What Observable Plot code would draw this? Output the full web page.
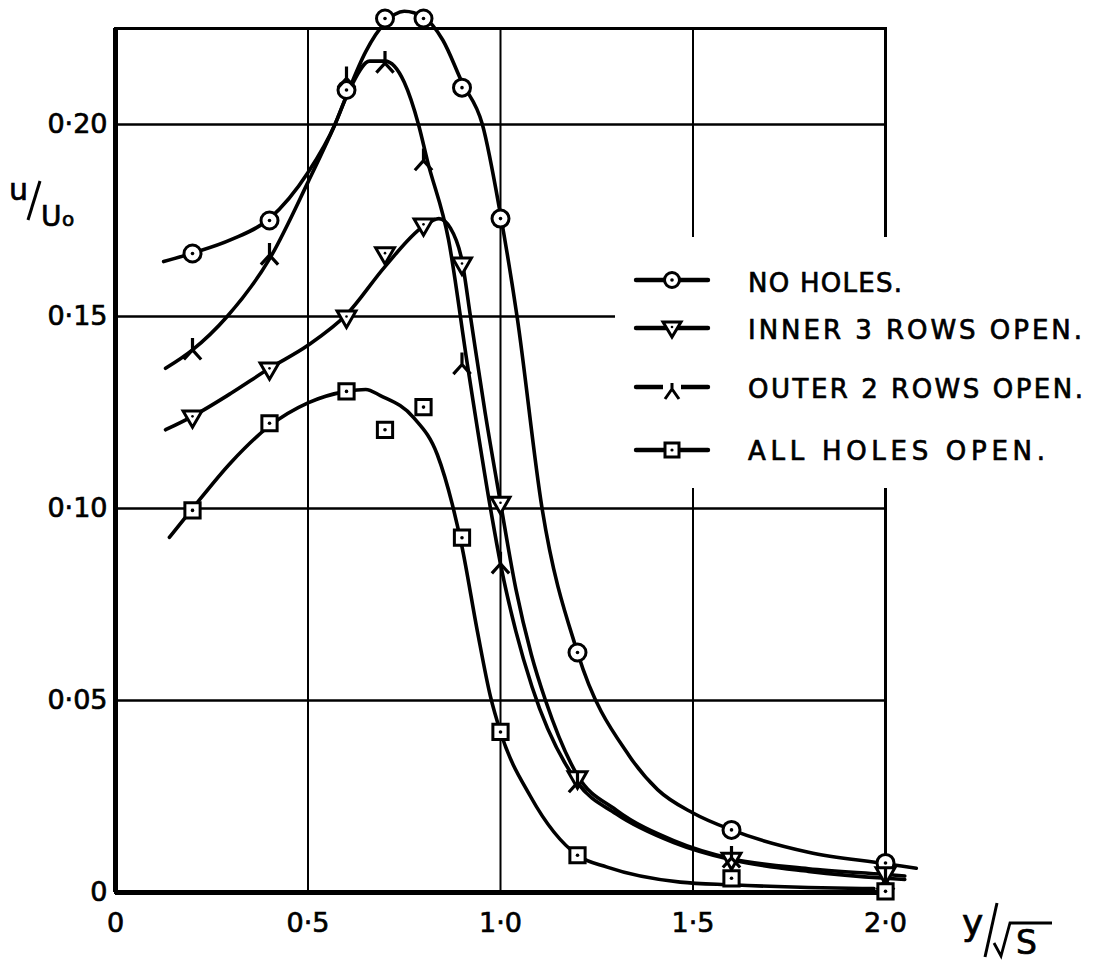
<!DOCTYPE html>
<html>
<head>
<meta charset="utf-8">
<script src="https://cdn.jsdelivr.net/npm/d3@7"></script>
<script src="https://cdn.jsdelivr.net/npm/@observablehq/plot@0.6"></script>
<style>
html, body { margin: 0; padding: 0; background: #fff; }
#wrap { position: relative; width: 1093px; height: 966px; overflow: hidden; }
#wrap > svg { display: block; }
#overlay { position: absolute; left: 0; top: 0; pointer-events: none; }
#wrap text { stroke: #000; stroke-width: 0.7px; paint-order: stroke; }
</style>
</head>
<body>
<div id="wrap"></div>
<script>
// ---- data ----
const xPositions = [0.2, 0.4, 0.6, 0.7, 0.8, 0.9, 1.0, 1.2, 1.6, 2.0];
const noHoles  = [0.1664, 0.1750, 0.2090, 0.2276, 0.2276, 0.2096, 0.1755, 0.0625, 0.0163, 0.0077];
const inner3   = [0.1240, 0.1365, 0.1500, 0.1665, 0.1740, 0.1638, 0.1015, 0.0300, 0.0088, 0.0050];
const outer2   = [0.1413, 0.1660, 0.2120, 0.2160, 0.1906, 0.1375, 0.0856, 0.0286, 0.0090, 0.0032];
const allHoles = [0.0995, 0.1222, 0.1305, 0.1205, 0.1264, 0.0924, 0.0418, 0.0097, 0.0037, 0.0003];

// faired curves as drawn
const noHolesCurve = [[0.125,0.1643],[0.2,0.1665],[0.3,0.1700],[0.4,0.1755],[0.5,0.1875],[0.57,0.2000],[0.6,0.2075],[0.65,0.2190],[0.7,0.2265],[0.75,0.2295],[0.8,0.2280],[0.85,0.2220],[0.9,0.2110],[0.953,0.2000],[1.0,0.1765],[1.043,0.1500],[1.108,0.1000],[1.2,0.0625],[1.335,0.0355],[1.408,0.0268],[1.5,0.0207],[1.6,0.0163],[1.8,0.0105],[2.0,0.0075],[2.08,0.0063]];
const inner3Curve = [[0.13,0.1205],[0.2,0.1240],[0.3,0.1300],[0.4,0.1365],[0.5,0.1425],[0.6,0.1505],[0.7,0.1630],[0.8,0.1735],[0.84,0.1755],[0.87,0.1730],[0.9,0.1645],[0.922,0.1500],[0.96,0.1250],[1.0,0.1015],[1.04,0.0790],[1.08,0.0620],[1.117,0.0500],[1.2,0.0305],[1.3,0.0215],[1.45,0.0135],[1.6,0.0088],[1.8,0.0062],[2.0,0.0047],[2.05,0.0043]];
const outer2Curve = [[0.13,0.1365],[0.2,0.1413],[0.29,0.1500],[0.4,0.1650],[0.5,0.1850],[0.57,0.2000],[0.61,0.2095],[0.66,0.2165],[0.7,0.2165],[0.75,0.2110],[0.787,0.2000],[0.81,0.1906],[0.865,0.1700],[0.914,0.1375],[0.974,0.1000],[1.0,0.0856],[1.04,0.0680],[1.082,0.0535],[1.2,0.0286],[1.3,0.0205],[1.45,0.0130],[1.6,0.0085],[1.8,0.0055],[2.0,0.0037],[2.05,0.0034]];
const allHolesCurve = [[0.14,0.0925],[0.2,0.1000],[0.3,0.1120],[0.4,0.1215],[0.5,0.1275],[0.6,0.1305],[0.65,0.1310],[0.688,0.1294],[0.775,0.1236],[0.836,0.1140],[0.875,0.1010],[0.9,0.0900],[0.94,0.0680],[0.974,0.0510],[1.0,0.0418],[1.078,0.0250],[1.2,0.0097],[1.277,0.0066],[1.467,0.0027],[1.6,0.0020],[1.8,0.0013],[1.97,0.0010]];

const xTicks = [0, 0.5, 1.0, 1.5, 2.0];
const xTickLabels = ["0", "0·5", "1·0", "1·5", "2·0"];
const yTicks = [0, 0.05, 0.10, 0.15, 0.20];
const yTickLabels = ["0", "0·05", "0·10", "0·15", "0·20"];
const xGrid = [0.5, 1.0, 1.5];
const yGrid = [0.05, 0.10, 0.15, 0.20];
const seriesNames = ["NO HOLES.", "INNER 3 ROWS OPEN.", "OUTER 2 ROWS OPEN.", "ALL HOLES OPEN."];

// ---- symbols ----
const invWye = {
  draw(ctx, size) {
    const r = Math.sqrt(size / Math.PI);
    ctx.moveTo(0, 0); ctx.lineTo(0, -r);
    ctx.moveTo(0, 0); ctx.lineTo(-r * 0.72, r * 0.8);
    ctx.moveTo(0, 0); ctx.lineTo(r * 0.72, r * 0.8);
  }
};

const pts = (vals) => xPositions.map((x, i) => ({x, y: vals[i]}));
const lineOpts = {curve: "monotone-x", stroke: "#000", strokeWidth: 3.6, strokeLinecap: "round"};
const ink = "#000";

const chart = Plot.plot({
  width: 1093,
  height: 966,
  marginLeft: 115,
  marginRight: 208,
  marginTop: 28,
  marginBottom: 74,
  style: {background: "#fff", color: "#000", fontFamily: "'DejaVu Sans', sans-serif"},
  x: {domain: [0, 2], label: null},
  y: {domain: [0, 0.225], label: null},
  marks: [
    Plot.ruleX(xGrid, {stroke: ink, strokeWidth: 2}),
    Plot.ruleY(yGrid, {stroke: ink, strokeWidth: 2.4}),
    Plot.frame({stroke: ink, strokeWidth: 3}),
    Plot.ruleX([0], {stroke: ink, strokeWidth: 5}),
    Plot.ruleY([0], {stroke: ink, strokeWidth: 5}),
    Plot.axisX(xTicks, {tickSize: 0, tickPadding: 20, fontSize: 27, fill: ink,
      tickFormat: d => xTickLabels[xTicks.indexOf(d)]}),
    Plot.axisY(yTicks, {tickSize: 0, tickPadding: 8, fontSize: 27, fill: ink,
      tickFormat: d => yTickLabels[yTicks.indexOf(d)]}),
    Plot.line(noHolesCurve, lineOpts),
    Plot.line(inner3Curve, lineOpts),
    Plot.line(outer2Curve, lineOpts),
    Plot.line(allHolesCurve, lineOpts),
    // markers
    Plot.dot(pts(noHoles), {x: "x", y: "y", symbol: "circle", r: 8.5, fill: "#fff", stroke: ink, strokeWidth: 3}),
    Plot.dot(pts(noHoles), {x: "x", y: "y", r: 1.8, fill: ink}),
    Plot.dot(pts(inner3), {x: "x", y: "y", symbol: "triangle", r: 7, rotate: 180, fill: "#fff", stroke: ink, strokeWidth: 3}),
    Plot.dot(pts(inner3), {x: "x", y: "y", r: 1.3, fill: ink}),
    Plot.dot(pts(outer2), {x: "x", y: "y", symbol: invWye, r: 12, fill: "none", stroke: ink, strokeWidth: 3.2}),
    Plot.dot(pts(allHoles), {x: "x", y: "y", symbol: "square", r: 8.6, fill: "#fff", stroke: ink, strokeWidth: 3}),
    Plot.dot(pts(allHoles), {x: "x", y: "y", r: 1.8, fill: ink})
  ]
});

const wrap = document.getElementById("wrap");
wrap.appendChild(chart);

// ---- overlay: legend and axis titles ----
const ov = d3.select(wrap).append("svg")
  .attr("id", "overlay")
  .attr("width", 1093).attr("height", 966)
  .style("font-family", "'DejaVu Sans', sans-serif");

// legend panel (breaks the grid behind it, as in the original)
ov.append("rect").attr("x", 615).attr("y", 237).attr("width", 478).attr("height", 251).attr("fill", "#fff");

const legendRows = [
  {name: seriesNames[0], cy: 280, ty: 282, w: 154, sym: "circle"},
  {name: seriesNames[1], cy: 328, ty: 329, w: 334, sym: "triangle"},
  {name: seriesNames[2], cy: 387, ty: 388, w: 335, sym: "wye"},
  {name: seriesNames[3], cy: 450, ty: 450, w: 297, sym: "square"}
];
for (const row of legendRows) {
  const g = ov.append("g");
  g.append("line").attr("x1", 636).attr("x2", 708).attr("y1", row.cy).attr("y2", row.cy)
    .attr("stroke", ink).attr("stroke-width", 4.4).attr("stroke-linecap", "round");
  const mx = 672, my = row.cy;
  if (row.sym === "circle") {
    g.append("circle").attr("cx", mx).attr("cy", my).attr("r", 7.5).attr("fill", "#fff").attr("stroke", ink).attr("stroke-width", 3);
    g.append("circle").attr("cx", mx).attr("cy", my).attr("r", 1.8).attr("fill", ink);
  } else if (row.sym === "triangle") {
    g.append("path").attr("d", `M${mx-9},${my-6}L${mx+9},${my-6}L${mx},${my+9}Z`).attr("fill", "#fff").attr("stroke", ink).attr("stroke-width", 3);
    g.append("circle").attr("cx", mx).attr("cy", my - 1).attr("r", 1.3).attr("fill", ink);
  } else if (row.sym === "wye") {
    g.append("rect").attr("x", mx - 9).attr("y", my - 4).attr("width", 18).attr("height", 8).attr("fill", "#fff");
    g.append("path").attr("d", `M${mx},${my-4}L${mx},${my+2}M${mx},${my+2}L${mx-7},${my+12}M${mx},${my+2}L${mx+7},${my+12}`)
      .attr("fill", "none").attr("stroke", ink).attr("stroke-width", 3);
  } else {
    g.append("rect").attr("x", mx - 7).attr("y", my - 7).attr("width", 14).attr("height", 14).attr("fill", "#fff").attr("stroke", ink).attr("stroke-width", 3);
    g.append("circle").attr("cx", mx).attr("cy", my).attr("r", 1.6).attr("fill", ink);
  }
  g.append("text").attr("x", 748).attr("y", row.ty + 9.5)
    .attr("font-size", 26).attr("fill", ink)
    .attr("textLength", row.w).attr("lengthAdjust", "spacing")
    .text(row.name);
}

// y-axis title  u/U0
const yt = ov.append("g").attr("fill", ink);
yt.append("text").attr("x", 9).attr("y", 200).attr("font-size", 30).text("u");
yt.append("path").attr("d", "M40,181L28,220").attr("stroke", ink).attr("stroke-width", 3).attr("fill", "none");
yt.append("text").attr("x", 41).attr("y", 226).attr("font-size", 28).text("U");
yt.append("text").attr("x", 62).attr("y", 226).attr("font-size", 20).text("o");

// x-axis title  y/√S
const xt = ov.append("g").attr("fill", ink);
xt.append("text").attr("x", 962).attr("y", 935).attr("font-size", 36).text("y");
xt.append("path").attr("d", "M997,903L985,957").attr("stroke", ink).attr("stroke-width", 3).attr("fill", "none");
xt.append("path").attr("d", "M994,943L1001,956L1010,923L1052,923").attr("stroke", ink).attr("stroke-width", 2.8).attr("fill", "none");
xt.append("text").attr("x", 1016).attr("y", 954).attr("font-size", 33).text("S");
</script>
</body>
</html>
